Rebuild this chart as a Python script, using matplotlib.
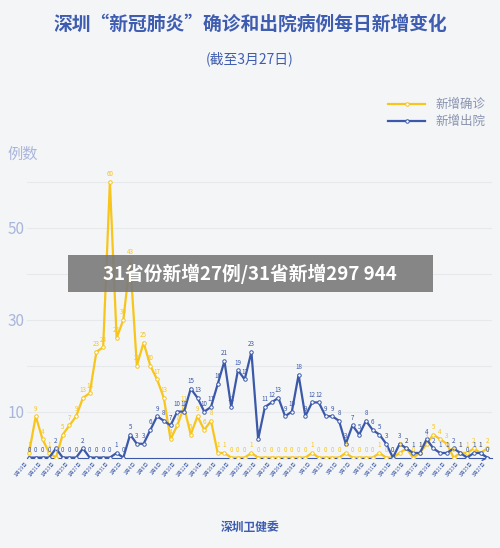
import matplotlib
matplotlib.use("Agg")
import matplotlib.pyplot as plt
import datetime as dt

plt.rcParams['font.family'] = ['Noto Sans CJK SC', 'DejaVu Sans']

confirmed = [1,9,4,1,0,5,7,9,13,14,23,24,60,26,30,43,20,25,20,17,13,4,7,11,5,9,6,8,1,1,0,0,0,1,
             0,0,0,0,0,0,0,0,1,0,0,0,0,1,0,0,0,0,1,0,0,1,2,0,1,3,5,4,3,0,1,1,2,1,2]
discharged = [0,0,0,0,2,0,0,0,2,0,0,0,0,1,0,5,3,3,6,9,8,7,10,10,15,13,10,11,16,21,11,19,17,23,
              4,11,12,13,9,10,18,9,12,12,9,9,8,3,7,5,8,6,5,3,0,3,2,1,1,4,2,1,1,2,1,0,1,1,0]
start = dt.date(2020, 1, 19)
dates = [start + dt.timedelta(days=i) for i in range(len(confirmed))]
date_labels = [f"{d.month}月{d.day}日" for d in dates]
yticks = [10, 30, 50]

bg = '#f4f5f7'
fig = plt.figure(figsize=(5, 5.48), dpi=100, facecolor=bg)
ax = fig.add_axes([0.054, 0.165, 0.93, 0.52], facecolor=bg)
x = list(range(len(confirmed)))
yc, bc = '#f7c51c', '#3b59a8'
ax.plot(x, confirmed, color=yc, lw=1.6, marker='o', ms=2.5, mfc='white', mec=yc, mew=0.7, label='新增确诊', zorder=3)
ax.plot(x, discharged, color=bc, lw=1.6, marker='o', ms=2.5, mfc='white', mec=bc, mew=0.7, label='新增出院', zorder=4)
for xi, v in zip(x, confirmed):
    ax.text(xi, v + 0.8, str(v), color=yc, fontsize=4.5, ha='center', va='bottom', zorder=5)
for xi, v in zip(x, discharged):
    ax.text(xi, v + 0.8, str(v), color=bc, fontsize=4.5, ha='center', va='bottom', zorder=5)

ax.set_ylim(0, 62)
ax.set_xlim(-0.3, len(x) - 0.3)
for g in range(10, 61, 10):
    ax.axhline(g, color='#e6e8ec', lw=0.8, zorder=0)
ax.set_yticks(yticks)
ax.set_yticklabels([str(t) for t in yticks], color='#a9b6dc', fontsize=11)
ax.set_xticks(x[::2])
ax.set_xticklabels(date_labels[::2], rotation=50, ha='right', fontsize=3.5, color='#3b59a8')
ax.tick_params(length=0, pad=2)
for s in ['top', 'right', 'left']:
    ax.spines[s].set_visible(False)
ax.spines['bottom'].set_color('#3b59a8')
ax.annotate('', xy=(len(x) - 0.3, 0), xytext=(len(x) - 1.2, 0),
            arrowprops=dict(arrowstyle='->', color='#3b59a8', lw=1), annotation_clip=False)

leg = ax.legend(loc='upper right', bbox_to_anchor=(1.01, 1.30), frameon=False, fontsize=9,
                labelcolor='#8a94b0', handlelength=3, labelspacing=0.3)

fig.text(0.5, 0.945, '深圳“新冠肺炎”确诊和出院病例每日新增变化', ha='center', fontsize=13.5,
         color='#3f5db0', fontweight='bold')
fig.text(0.5, 0.885, '(截至3月27日)', ha='center', fontsize=10, color='#3f5db0')
fig.text(0.015, 0.71, '例数', fontsize=11, color='#a9b6dc')

fig.patches.append(matplotlib.patches.Rectangle((0.135, 0.468), 0.73, 0.066, transform=fig.transFigure,
                                                 facecolor='#7a7a7a', alpha=0.9, zorder=10))
fig.text(0.5, 0.501, '31省份新增27例/31省新增297 944', ha='center', va='center', fontsize=13.5,
         color='white', fontweight='bold', zorder=11)
fig.text(0.5, 0.037, '深圳卫健委', ha='center', va='center', fontsize=8.5, color='#3f5db0', fontweight='bold')

fig.savefig('out.png', dpi=100, facecolor=bg)
